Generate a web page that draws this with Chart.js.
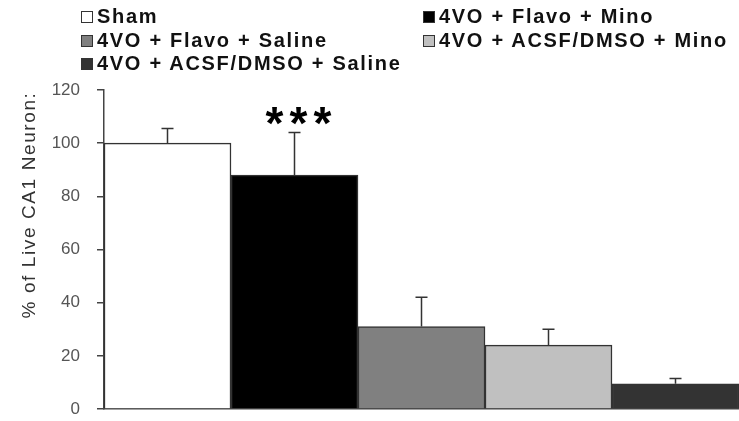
<!DOCTYPE html>
<html>
<head>
<meta charset="utf-8">
<script src="https://cdn.jsdelivr.net/npm/chart.js@4"></script>
<style>
  body { margin: 0; background: #fff; }
  #wrap { position: relative; width: 739px; height: 421px; }
  #legend { position: absolute; left: 0; top: 0; width: 739px; height: 80px; }
  .item { position: absolute; display: flex; align-items: center;
          font: bold 20px "Liberation Sans", Arial, sans-serif; letter-spacing: 1.7px; color: #111; white-space: nowrap; }
  .box { width: 12px; height: 12px; border: 1.5px solid #333; margin-right: 4px; box-sizing: border-box; }
</style>
</head>
<body>
<div id="wrap">
  <canvas id="neuronChart" width="739" height="421"></canvas>
  <div id="legend"></div>
</div>
<script>
var groups = ['Sham', '4VO + Flavo + Mino', '4VO + Flavo + Saline', '4VO + ACSF/DMSO + Mino', '4VO + ACSF/DMSO + Saline'];
var liveValues = [100, 88, 31, 24, 9.5];
var liveErrors = [5.5, 16, 11, 6, 2];
var marks = ['', '***', '', '', ''];
var barColors = ['#ffffff', '#000000', '#808080', '#c0c0c0', '#333333'];
var yTicks = [0, 20, 40, 60, 80, 100, 120];

// legend slots: left column / right column
var legendPos = [[81, 5], [423, 5], [81, 29], [423, 29], [81, 52]];

var errorBars = {
    id: 'errorBars',
    afterDatasetsDraw: function(chart) {
        var c = chart.ctx;
        var y = chart.scales.y;
        c.save();
        c.strokeStyle = '#333';
        c.lineWidth = 1.5;
        chart.data.datasets.forEach(function(ds, i) {
            var bar = chart.getDatasetMeta(i).data[0];
            var top = y.getPixelForValue(liveValues[i] + liveErrors[i]);
            c.beginPath();
            c.moveTo(bar.x, bar.y);
            c.lineTo(bar.x, top);
            c.moveTo(bar.x - 6, top);
            c.lineTo(bar.x + 6, top);
            c.stroke();
            if (marks[i]) {
                c.fillStyle = '#000';
                c.font = 'bold 46px "Liberation Sans", Arial, sans-serif';
                c.textAlign = 'center';
                c.textBaseline = 'alphabetic';
                var m = c.measureText('*');
                var mid = top - 17;
                var base = mid + (m.actualBoundingBoxAscent - m.actualBoundingBoxDescent) / 2;
                for (var k = 0; k < marks[i].length; k++) {
                    c.fillText('*', bar.x + 4 + (k - 1) * 24, base);
                }
            }
        });
        c.restore();
    }
};

var yTitle = {
    id: 'yTitle',
    afterDraw: function(chart) {
        var c = chart.ctx;
        c.save();
        c.translate(30, 205);
        c.rotate(-Math.PI / 2);
        c.font = '19px "Liberation Sans", Arial, sans-serif';
        c.letterSpacing = '1.6px';
        c.fillStyle = '#333';
        c.textAlign = 'center';
        c.textBaseline = 'middle';
        c.fillText('% of Live CA1 Neuron:', 0, 0);
        c.restore();
    }
};

document.addEventListener('DOMContentLoaded', function() {
    var ctx = document.getElementById('neuronChart');
    var chart = new Chart(ctx, {
        type: 'bar',
        data: {
            labels: [''],
            datasets: groups.map(function(g, i) {
                return {
                    label: g,
                    data: [liveValues[i]],
                    backgroundColor: barColors[i],
                    borderColor: '#333',
                    borderWidth: 1.5,
                    borderSkipped: 'bottom'
                };
            })
        },
        options: {
            responsive: false,
            animation: false,
            layout: { padding: { top: 90, bottom: 12, left: 0, right: 0 } },
            datasets: { bar: { barPercentage: 1, categoryPercentage: 1 } },
            plugins: {
                legend: { display: false },
                tooltip: { enabled: false }
            },
            scales: {
                x: {
                    afterFit: function(axis) { axis.height = 0; },
                    grid: { display: false, drawTicks: false },
                    ticks: { display: false },
                    border: { display: true, color: '#444', width: 1.5 }
                },
                y: {
                    min: 0,
                    max: 120,
                    afterFit: function(axis) {
                        axis.width = 104;
                        axis.paddingTop = 0;
                        axis.paddingBottom = 0;
                    },
                    afterBuildTicks: function(axis) {
                        axis.ticks = yTicks.map(function(v) { return { value: v }; });
                    },
                    grid: { drawOnChartArea: false, drawTicks: true, tickLength: 7, color: '#444', lineWidth: 1.5 },
                    border: { display: true, color: '#444', width: 1.5 },
                    ticks: {
                        padding: 17,
                        color: '#555',
                        font: { family: '"Liberation Sans", Arial, sans-serif', size: 17 }
                    }
                }
            }
        },
        plugins: [errorBars, yTitle]
    });

    var legend = document.getElementById('legend');
    chart.data.datasets.forEach(function(ds, i) {
        var item = document.createElement('div');
        item.className = 'item';
        item.style.left = legendPos[i][0] + 'px';
        item.style.top = legendPos[i][1] + 'px';
        var box = document.createElement('span');
        box.className = 'box';
        box.style.background = ds.backgroundColor;
        item.appendChild(box);
        item.appendChild(document.createTextNode(ds.label));
        legend.appendChild(item);
    });
});
</script>
</body>
</html>
